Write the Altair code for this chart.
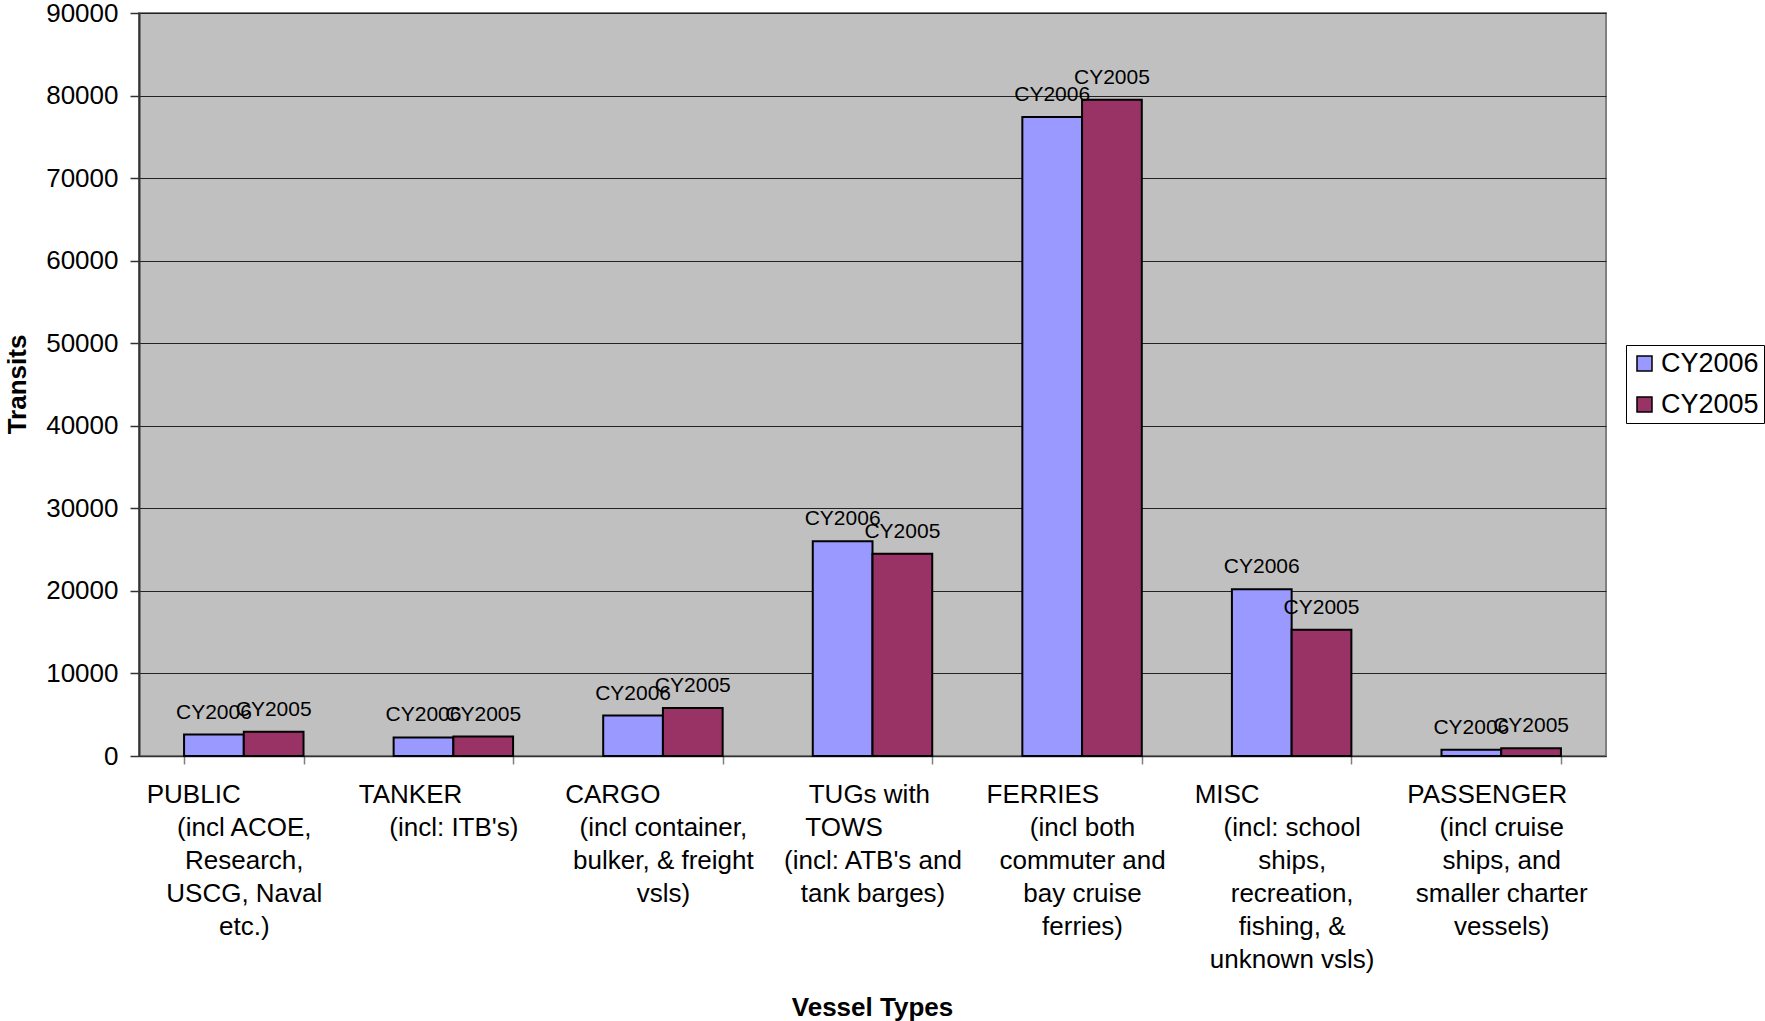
import altair as alt
import pandas as pd

NBSP = "\u00a0"
ZW = "\u200b"  # keeps the trailing padding from being trimmed


def pad(word, n):
    return word + NBSP * n + ZW


categories = [
    pad("PUBLIC", 14) + "|(incl ACOE,|Research,|USCG, Naval|etc.)",
    pad("TANKER", 12) + "|(incl: ITB's)",
    pad("CARGO", 14) + "|(incl container,|bulker, & freight|vsls)",
    pad("TUGs with", 1) + "|" + pad("TOWS", 8) + "|(incl: ATB's and|tank barges)",
    pad("FERRIES", 11) + "|(incl both|commuter and|bay cruise|ferries)",
    pad("MISC", 18) + "|(incl: school|ships,|recreation,|fishing, &|unknown vsls)",
    pad("PASSENGER", 4) + "|(incl cruise|ships, and|smaller charter|vessels)",
]
series = ["CY2006", "CY2005"]
cy2006 = [2600, 2250, 4900, 26000, 77400, 20200, 750]
cy2005 = [2930, 2350, 5800, 24500, 79500, 15300, 950]
colors = ["#9999FF", "#993366"]
y_ticks = [0, 10000, 20000, 30000, 40000, 50000, 60000, 70000, 80000, 90000]

rows = []
for c, a, b in zip(categories, cy2006, cy2005):
    rows.append({"cat": c, "series": "CY2006", "value": a})
    rows.append({"cat": c, "series": "CY2005", "value": b})
df = pd.DataFrame(rows)

FONT = "Liberation Sans"

x_enc = alt.X(
    "cat:N",
    sort=categories,
    scale=alt.Scale(paddingInner=0.43, paddingOuter=0.215),
    axis=alt.Axis(
        title="Vessel Types",
        titleFontSize=26,
        titleFontWeight="bold",
        titleFont=FONT,
        titleColor="black",
        titleX=733,
        titleY=251,
        titleBaseline="middle",
        labelExpr="split(datum.label, '|')",
        labelFontSize=26,
        labelFont=FONT,
        labelColor="black",
        labelAngle=0,
        labelLineHeight=33,
        labelBaseline="top",
        labelPadding=17,
        labelLimit=600,
        labelOverlap=False,
        tickBand="extent",
        tickSize=8,
        tickColor="#808080",
        tickWidth=1.5,
        domainColor="#333333",
        domainWidth=1.5,
        grid=False,
    ),
)
xoff = alt.XOffset("series:N", sort=series, scale=alt.Scale(paddingInner=0, paddingOuter=0))
y_enc = alt.Y(
    "value:Q",
    scale=alt.Scale(domain=[0, 90000], nice=False),
    axis=alt.Axis(
        values=y_ticks,
        format="d",
        title="Transits",
        titleFontSize=26,
        titleFontWeight="bold",
        titleFont=FONT,
        titleColor="black",
        titleX=-122,
        titleY=371,
        titleBaseline="middle",
        titleAngle=-90,
        labelFontSize=26,
        labelFont=FONT,
        labelColor="black",
        labelPadding=12,
        tickSize=9,
        tickColor="#333333",
        tickWidth=1.5,
        domainColor="#333333",
        domainWidth=2,
        grid=True,
        gridColor="#222222",
        gridWidth=1,
    ),
)

bars = alt.Chart(df).mark_bar(stroke="black", strokeWidth=2).encode(
    x=x_enc,
    xOffset=xoff,
    y=y_enc,
    color=alt.Color(
        "series:N",
        sort=series,
        scale=alt.Scale(domain=series, range=colors),
        legend=alt.Legend(
            title=None,
            orient="none",
            legendX=1487,
            legendY=332,
            fillColor="white",
            strokeColor="black",
            padding=5,
            symbolType="square",
            symbolSize=225,
            symbolStrokeColor="black",
            symbolStrokeWidth=1.5,
            labelFontSize=27,
            labelFont=FONT,
            labelColor="black",
            rowPadding=13,
            labelOffset=3,
        ),
    ),
)

labels = alt.Chart(df).mark_text(
    fontSize=21, font=FONT, color="black", baseline="alphabetic", dy=-16
).encode(
    x=alt.X("cat:N", sort=categories),
    xOffset=xoff,
    y="value:Q",
    text="series:N",
)

chart = (
    alt.layer(bars, labels)
    .properties(
        width=1467,
        height=743,
        autosize=alt.AutoSizeParams(type="none"),
        padding={"left": 139, "top": 13, "right": 159, "bottom": 265},
        background="white",
    )
    .configure_view(fill="#C0C0C0", stroke="#808080", strokeWidth=2)
)

chart.save("out.html", embed_options={"renderer": "svg", "actions": False})
